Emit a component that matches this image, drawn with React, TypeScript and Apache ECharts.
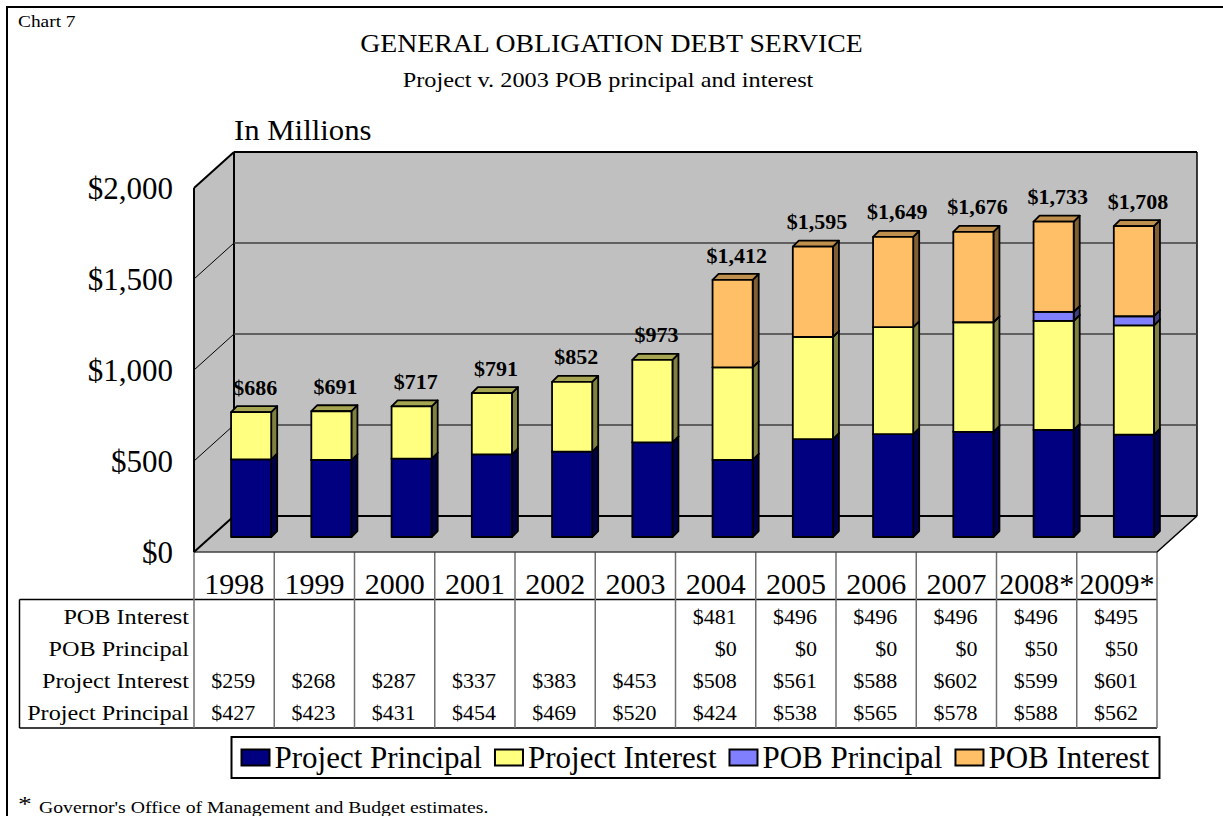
import React, { useEffect, useRef } from "react";
import * as echarts from "echarts";

const categories = ["1998", "1999", "2000", "2001", "2002", "2003", "2004", "2005", "2006", "2007", "2008*", "2009*"];
const projectPrincipal = [427, 423, 431, 454, 469, 520, 424, 538, 565, 578, 588, 562];
const projectInterest = [259, 268, 287, 337, 383, 453, 508, 561, 588, 602, 599, 601];
const pobPrincipal = [null, null, null, null, null, null, 0, 0, 0, 0, 50, 50];
const pobInterest = [null, null, null, null, null, null, 481, 496, 496, 496, 496, 495];
const totals = [686, 691, 717, 791, 852, 973, 1412, 1595, 1649, 1676, 1733, 1708];
const yTicks = [0, 500, 1000, 1500, 2000];

const FONT = "Liberation Serif";
const DX = 17, DY = 15, SIDE = 6;

const stacks = [
  { name: "Project Principal", values: projectPrincipal, front: "#000080", side: "#000048", top: "#000060" },
  { name: "Project Interest", values: projectInterest, front: "#FFFF80", side: "#808040", top: "#A6A652" },
  { name: "POB Principal", values: pobPrincipal, front: "#8080FF", side: "#404080", top: "#6060C0" },
  { name: "POB Interest", values: pobInterest, front: "#FFBF66", side: "#806033", top: "#BF8F4D" },
];
const tableRows = [
  { label: "POB Interest", values: pobInterest },
  { label: "POB Principal", values: pobPrincipal },
  { label: "Project Interest", values: projectInterest },
  { label: "Project Principal", values: projectPrincipal },
];

function buildStack(i: number) {
  return categories.map((_, c) => {
    let base = 0;
    for (let k = 0; k < i; k++) base += stacks[k].values[c] ?? 0;
    return [c, base, base + (stacks[i].values[c] ?? 0)];
  });
}

const barRender = (i: number) => (params: any, api: any) => {
  const c = api.value(0), lo = api.value(1), hi = api.value(2);
  if (hi <= lo) return null;
  const w = api.size([1, 0])[0] * 0.5;
  const a = api.coord([c, lo]);
  const b = api.coord([c, hi]);
  const xl = a[0] + DX - w / 2, xr = xl + w;
  const yb = a[1] - DY, yt = b[1] - DY;
  const s = stacks[i];
  const line = { stroke: "#000", lineWidth: 1.8, lineJoin: "round" };
  return {
    type: "group",
    children: [
      { type: "polygon", shape: { points: [[xr, yb], [xr + SIDE, yb - SIDE], [xr + SIDE, yt - SIDE], [xr, yt]] }, style: { fill: s.side, ...line } },
      { type: "polygon", shape: { points: [[xl, yt], [xr, yt], [xr + SIDE, yt - SIDE], [xl + SIDE, yt - SIDE]] }, style: { fill: s.top, ...line } },
      { type: "rect", shape: { x: xl, y: yt, width: w, height: yb - yt }, style: { fill: s.front, ...line } },
    ],
  };
};

const wallRender = (params: any, api: any) => {
  const cs = params.coordSys;
  const v = api.value(0);
  const y = api.coord([0, v])[1];
  const L = cs.x, R = cs.x + cs.width, dx = 40, dy = 36;
  const children: any[] = [];
  const wall = { fill: "#C0C0C0", stroke: "none" };
  if (params.dataIndex === 0) {
    const T = cs.y, B = cs.y + cs.height;
    children.push(
      { type: "polygon", shape: { points: [[L + dx, T - dy], [R + dx, T - dy], [R + dx, B - dy], [L + dx, B - dy]] }, style: wall },
      { type: "polygon", shape: { points: [[L, B], [L, T], [L + dx, T - dy], [L + dx, B - dy]] }, style: wall },
      { type: "polygon", shape: { points: [[L, B], [R, B], [R + dx, B - dy], [L + dx, B - dy]] }, style: wall },
      { type: "line", shape: { x1: L, y1: T, x2: L, y2: B }, style: { stroke: "#000", lineWidth: 2 } },
      { type: "line", shape: { x1: L + dx, y1: T - dy, x2: L + dx, y2: B - dy }, style: { stroke: "#000", lineWidth: 2 } },
      { type: "line", shape: { x1: R + dx, y1: T - dy, x2: R + dx, y2: B - dy }, style: { stroke: "#000", lineWidth: 1.5 } },
      { type: "line", shape: { x1: R, y1: B, x2: R + dx, y2: B - dy }, style: { stroke: "#000", lineWidth: 1.5 } },
      { type: "line", shape: { x1: L, y1: B, x2: R, y2: B }, style: { stroke: "#404040", lineWidth: 1.5 } },
    );
  }
  const isEdge = v === 0 || v === 2000;
  children.push(
    { type: "line", shape: { x1: L, y1: y, x2: L + dx, y2: y - dy }, style: { stroke: "#000", lineWidth: isEdge ? 2 : 1 } },
    { type: "line", shape: { x1: L + dx, y1: y - dy, x2: R + dx, y2: y - dy }, style: { stroke: isEdge ? "#000" : "#404040", lineWidth: isEdge ? 2 : 1.5 } },
  );
  return { type: "group", children };
};

const totalRender = (params: any, api: any) => {
  const c = api.value(0), v = api.value(1);
  const p = api.coord([c, v]);
  return {
    type: "text",
    style: {
      x: p[0] + DX + 4, y: p[1] - DY - 25, text: "$" + v.toLocaleString("en-US"),
      fill: "#000", fontSize: 22, fontWeight: "bold", fontFamily: FONT, align: "center", verticalAlign: "middle",
    },
  };
};

const tableRender = (params: any, api: any) => {
  const cs = params.coordSys;
  const c = api.value(0), r = api.value(1);
  const band = cs.width / categories.length;
  const val = tableRows[r].values[c];
  const y = 616 + r * 32;
  if (val === null || val === undefined) return null;
  return {
    type: "text",
    style: {
      x: cs.x + (c + 1) * band - 19, y, text: "$" + val,
      fill: "#000", fontSize: 22, fontFamily: FONT, align: "right", verticalAlign: "middle",
    },
  };
};

function tableData() {
  const out: number[][] = [];
  tableRows.forEach((_, r) => categories.forEach((_, c) => out.push([c, r])));
  return out;
}

function text(x: number, y: number, t: string, fontSize: number, align = "left", scaleX = 1) {
  return { type: "text", x, y, scaleX, silent: true, style: { text: t, fontSize, fontFamily: FONT, fill: "#000", align, verticalAlign: "middle" } };
}
function seg(x1: number, y1: number, x2: number, y2: number, stroke = "#000", lineWidth = 1.5) {
  return { type: "line", silent: true, shape: { x1, y1, x2, y2 }, style: { stroke, lineWidth } };
}

export default function App() {
  const ref = useRef<HTMLDivElement>(null);
  useEffect(() => {
    document.body.style.margin = "0";
    const chart = echarts.init(ref.current!, undefined, { renderer: "svg" });
    const L = 194, R = 1157, band = (R - L) / categories.length;
    const graphic: any[] = [
      seg(6, 7, 1223, 7, "#000", 2),
      seg(7, 6, 7, 816, "#000", 2),
      text(18, 21, "Chart 7", 17, "left", 1.14),
      text(611.5, 43, "GENERAL OBLIGATION DEBT SERVICE", 25, "center", 1.11),
      text(608, 79, "Project v. 2003 POB principal and interest", 22, "center", 1.105),
      text(234, 130, "In Millions", 29, "left", 1.06),
      text(18, 803, "*", 22, "left", 1.25),
      text(39, 807, "Governor's Office of Management and Budget estimates.", 17, "left", 1.16),
      seg(19.5, 599.5, R, 599.5, "#000", 1.5),
      seg(19.5, 728, R, 728, "#000", 1.5),
      seg(19.5, 599.5, 19.5, 728, "#000", 1.5),
    ];
    for (let i = 0; i <= categories.length; i++) {
      const x = L + i * band;
      graphic.push(seg(x, 552, x, 728, "#707070", 1.5));
    }
    tableRows.forEach((row, r) => graphic.push(text(189, 616 + r * 32, row.label, 22, "right", 1.1)));

    chart.setOption({
      animation: false,
      backgroundColor: "#fff",
      grid: { left: L, right: 1223 - R, top: 188, bottom: 816 - 552, containLabel: false },
      xAxis: {
        type: "category",
        data: categories,
        axisLine: { show: false },
        axisTick: { show: false },
        axisLabel: { interval: 0, hideOverlap: false, fontFamily: FONT, fontSize: 30, color: "#000", margin: 16 },
      },
      yAxis: {
        type: "value",
        min: 0,
        max: 2000,
        interval: 500,
        splitLine: { show: false },
        axisLine: { show: false },
        axisTick: { show: false },
        axisLabel: {
          fontFamily: FONT, fontSize: 31, color: "#000", margin: 21, padding: [3, 0, 0, 0],
          formatter: (v: number) => "$" + v.toLocaleString("en-US"),
        },
      },
      legend: {
        data: stacks.map((s) => s.name),
        left: 231.5,
        top: 737,
        orient: "horizontal",
        padding: [5, 10, 5, 9],
        itemWidth: 28,
        itemHeight: 16,
        itemGap: 12,
        icon: "rect",
        borderColor: "#000",
        borderWidth: 2,
        backgroundColor: "#fff",
        itemStyle: { borderColor: "#000", borderWidth: 2 },
        textStyle: { fontFamily: FONT, fontSize: 31, color: "#000" },
        selectedMode: false,
      },
      tooltip: { show: false },
      graphic,
      series: [
        { type: "custom", name: "walls", silent: true, z: 1, data: yTicks.map((v) => [v]), renderItem: wallRender, encode: { y: 0 } },
        ...stacks.map((s, i) => ({
          type: "custom",
          name: s.name,
          silent: true,
          z: 3 + i,
          itemStyle: { color: s.front },
          data: buildStack(i),
          renderItem: barRender(i),
          encode: { x: 0, y: [1, 2] },
        })),
        { type: "custom", name: "Total", silent: true, z: 9, data: totals.map((v, c) => [c, v]), renderItem: totalRender, encode: { x: 0, y: 1 } },
        { type: "custom", name: "Table", silent: true, z: 9, data: tableData(), renderItem: tableRender },
      ],
    });
    return () => chart.dispose();
  }, []);
  return <div ref={ref} style={{ width: 1223, height: 816 }} />;
}
